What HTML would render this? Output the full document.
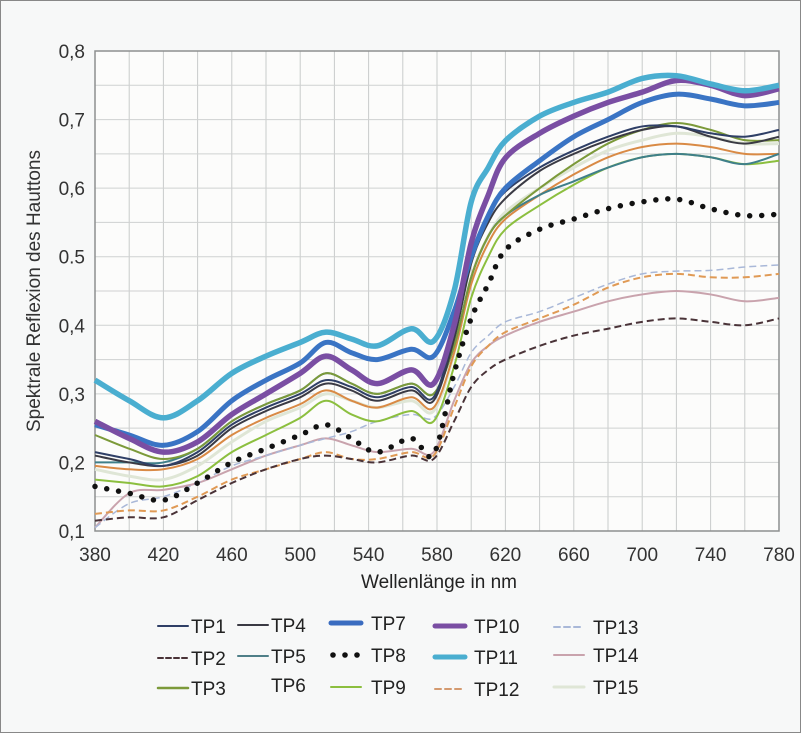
<!DOCTYPE html>
<html><head><meta charset="utf-8">
<style>
body{margin:0;background:#fff;}
#wrap{position:relative;width:801px;height:733px;background:#f7f8f8;box-sizing:border-box;border:1px solid #888;overflow:hidden;font-family:"Liberation Sans Narrow","Liberation Sans",sans-serif;}
svg{position:absolute;left:0;top:0;}
</style></head>
<body>
<div id="wrap">
<svg id="chart" width="801" height="733"></svg>
</div>
<script>
const wavelengths=[380,400,420,440,460,480,500,515,530,545,565,578,590,600,610,620,640,660,680,700,720,740,760,780];
const tp1=[0.215,0.205,0.195,0.215,0.255,0.28,0.30,0.32,0.31,0.295,0.31,0.295,0.39,0.5,0.56,0.595,0.63,0.655,0.675,0.69,0.69,0.68,0.675,0.685];
const tp2=[0.115,0.12,0.12,0.145,0.17,0.19,0.205,0.21,0.205,0.2,0.21,0.205,0.26,0.31,0.335,0.35,0.37,0.385,0.395,0.405,0.41,0.405,0.4,0.41];
const tp3=[0.24,0.22,0.205,0.22,0.26,0.285,0.305,0.33,0.315,0.3,0.315,0.3,0.37,0.47,0.53,0.56,0.6,0.635,0.665,0.685,0.695,0.685,0.67,0.67];
const tp4=[0.21,0.2,0.195,0.21,0.25,0.275,0.295,0.315,0.305,0.29,0.305,0.29,0.38,0.49,0.55,0.585,0.625,0.65,0.67,0.685,0.69,0.675,0.665,0.675];
const tp5=[0.2,0.2,0.2,0.22,0.26,0.285,0.305,0.33,0.315,0.3,0.315,0.3,0.37,0.47,0.53,0.56,0.59,0.61,0.63,0.645,0.65,0.645,0.635,0.65];
const tp6=[0.195,0.19,0.19,0.205,0.24,0.265,0.285,0.305,0.29,0.28,0.295,0.28,0.36,0.46,0.52,0.555,0.59,0.62,0.645,0.66,0.665,0.66,0.65,0.65];
const tp7=[0.255,0.24,0.225,0.245,0.29,0.32,0.345,0.375,0.36,0.35,0.365,0.355,0.42,0.5,0.56,0.6,0.64,0.675,0.7,0.725,0.737,0.73,0.72,0.725];
const tp8=[0.165,0.155,0.145,0.17,0.2,0.22,0.24,0.255,0.235,0.215,0.235,0.212,0.33,0.41,0.46,0.51,0.54,0.555,0.57,0.58,0.584,0.57,0.56,0.562];
const tp9=[0.175,0.17,0.165,0.18,0.215,0.24,0.265,0.29,0.27,0.26,0.275,0.26,0.34,0.44,0.5,0.54,0.575,0.605,0.63,0.645,0.65,0.645,0.635,0.64];
const tp10=[0.26,0.235,0.215,0.23,0.27,0.30,0.33,0.355,0.335,0.315,0.335,0.315,0.4,0.52,0.59,0.644,0.68,0.705,0.725,0.74,0.757,0.75,0.735,0.745];
const tp11=[0.32,0.29,0.265,0.29,0.33,0.355,0.375,0.39,0.38,0.37,0.395,0.377,0.45,0.58,0.63,0.669,0.705,0.725,0.74,0.76,0.764,0.752,0.742,0.75];
const tp12=[0.125,0.13,0.13,0.15,0.175,0.19,0.205,0.215,0.205,0.205,0.215,0.21,0.28,0.34,0.37,0.39,0.41,0.43,0.455,0.47,0.475,0.47,0.47,0.475];
const tp13=[0.105,0.14,0.15,0.17,0.195,0.21,0.225,0.235,0.245,0.26,0.27,0.265,0.31,0.36,0.385,0.405,0.42,0.44,0.46,0.475,0.479,0.48,0.485,0.488];
const tp14=[0.105,0.155,0.16,0.17,0.19,0.21,0.225,0.235,0.225,0.215,0.22,0.215,0.29,0.345,0.37,0.385,0.405,0.42,0.435,0.445,0.45,0.445,0.435,0.44];
const tp15=[0.19,0.18,0.175,0.195,0.23,0.26,0.28,0.30,0.29,0.28,0.29,0.275,0.36,0.47,0.53,0.565,0.6,0.63,0.655,0.67,0.68,0.675,0.665,0.665];
const xTicks=[380,420,460,500,540,580,620,660,700,740,780];
const yTicks=[0.1,0.2,0.3,0.4,0.5,0.6,0.7,0.8];
const yTickLabels=["0,1","0,2","0,3","0,4","0.5","0,6","0,7","0,8"];

const X0=94,X1=778,Y0=530,Y1=50;
const xs=v=>X0+(v-380)/400*(X1-X0);
const ys=v=>Y0-(v-0.1)/0.7*(Y0-Y1);
const NS="http://www.w3.org/2000/svg";
const svg=document.getElementById('chart');
function mk(t,a,p){const e=document.createElementNS(NS,t);for(const k in a)e.setAttribute(k,a[k]);(p||svg).appendChild(e);return e;}

const plotBg=mk('rect',{x:X0,y:Y1,width:X1-X0,height:Y0-Y1,fill:'#fcfcfb'});


const grid=mk('g',{});


for(let w=400;w<780;w+=20){mk('line',{x1:xs(w),x2:xs(w),y1:Y1,y2:Y0,stroke:'#c9cbcb','stroke-width':1},grid);}
for(let v=0.15;v<0.8;v+=0.05){mk('line',{x1:X0,x2:X1,y1:ys(v),y2:ys(v),stroke:'#cfd1d1','stroke-width':1},grid);}
mk('rect',{x:X0,y:Y1,width:X1-X0,height:Y0-Y1,fill:'none',stroke:'#8d8f8f','stroke-width':1.5},grid);

const yt=mk('g',{});


yTicks.forEach((v,i)=>{const t=mk('text',{x:84,y:ys(v)+7,'text-anchor':'end','font-size':19,fill:'#333'},yt);t.textContent=yTickLabels[i];});
const xt=mk('g',{});


xTicks.forEach(v=>{const t=mk('text',{x:xs(v),y:560,'text-anchor':'middle','font-size':19,fill:'#333'},xt);t.textContent=v;});
const xtitle=mk('text',{x:438,y:587,'text-anchor':'middle','font-size':19,fill:'#222'});
xtitle.textContent='Wellenlänge in nm';


const ytitle=mk('text',{x:0,y:0,'text-anchor':'middle','font-size':19,fill:'#333',transform:'translate(39,290) rotate(-90)'});
ytitle.textContent='Spektrale Reflexion des Hauttons';



const seriesList=[
 ['TP15',tp15,'#dfe6d6',3,''],
 ['TP14',tp14,'#c9a3ad',2,''],
 ['TP13',tp13,'#a9b8d8',1.5,'7 4'],
 ['TP12',tp12,'#e09a55',2,'7 4'],
 ['TP2',tp2,'#4a3338',2,'7 4'],
 ['TP9',tp9,'#8cbf3f',2,''],
 ['TP6',tp6,'#d98a45',2,''],
 ['TP5',tp5,'#3f7f8a',2,''],
 ['TP3',tp3,'#7c9a3a',2,''],
 ['TP4',tp4,'#3a3a44',2,''],
 ['TP1',tp1,'#2f3f66',2,''],
 ['TP8',tp8,'#111',0,'dots'],
 ['TP7',tp7,'#3a74c4',5,''],
 ['TP10',tp10,'#7a4ea3',5.5,''],
 ['TP11',tp11,'#4aaed0',5.5,'']
];
function smoothPath(vals){
  const p=wavelengths.map((w,i)=>[xs(w),ys(vals[i])]);
  let d='M'+p[0][0]+','+p[0][1];
  for(let i=0;i<p.length-1;i++){
    const p0=p[i-1]||p[i],p1=p[i],p2=p[i+1],p3=p[i+2]||p2;
    const c1=[p1[0]+(p2[0]-p0[0])/6,p1[1]+(p2[1]-p0[1])/6];
    const c2=[p2[0]-(p3[0]-p1[0])/6,p2[1]-(p3[1]-p1[1])/6];
    d+=' C'+c1[0]+','+c1[1]+' '+c2[0]+','+c2[1]+' '+p2[0]+','+p2[1];
  }
  return d;
}
seriesList.forEach(s=>{
  const [name,vals,col,w,dash]=s;
  let el;
  if(dash==='dots'){
    el=mk('path',{d:smoothPath(vals),fill:'none',stroke:col,'stroke-width':5.5,'stroke-linecap':'round','stroke-dasharray':'0 12'});
  }else{
    el=mk('path',{d:smoothPath(vals),fill:'none',stroke:col,'stroke-width':w,'stroke-dasharray':dash||'none','stroke-linejoin':'round'});
  }
  
  
});

const legendItems=[
 ['TP1',157,625,'#2f3f66',2,''],['TP2',157,657,'#4a3338',2,'5 3'],['TP3',157,687,'#7c9a3a',2.5,''],
 ['TP4',237,624,'#3a3a44',2,''],['TP5',237,655,'#4f7f88',2,''],['TP6',237,684,'none',0,''],
 ['TP7',330,622,'#3a6cc0',5,''],['TP8',330,654,'#111',0,'dots'],['TP9',330,686,'#8cbf3f',2,''],
 ['TP10',434,625,'#7a4ea3',5,''],['TP11',434,656,'#4aaed0',5,''],['TP12',434,688,'#d49a70',2,'6 4'],
 ['TP13',553,626,'#a9b8d8',2,'6 4'],['TP14',553,654,'#c9a3ad',2,''],['TP15',553,686,'#dfe6d6',3,'']
];
const lg=mk('g',{});


legendItems.forEach(it=>{
  const [name,x,y,col,w,dash]=it;
  const g=mk('g',{},lg);
  
  
  if(dash==='dots'){
    [0,1,2].forEach(k=>mk('circle',{cx:x+2+k*12,cy:y,r:2.8,fill:col},g));
  }else if(col!=='none'){
    mk('line',{x1:x,x2:x+30,y1:y,y2:y,stroke:col,'stroke-width':w,'stroke-linecap':'round','stroke-dasharray':dash||'none'},g);
  }
  const tx=x+(name==='TP7'||name==='TP8'||name==='TP9'?40:(name.length>3?39:33));
  const t=mk('text',{x:tx,y:y+7,'font-size':19,fill:'#222'},g);
  t.textContent=name;
});
</script>
</body></html>
